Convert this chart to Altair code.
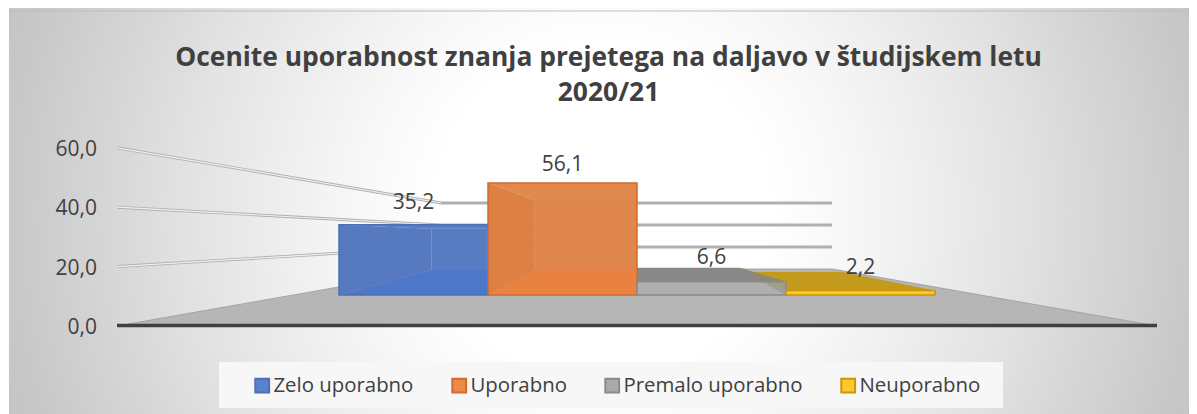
import altair as alt
import numpy as np
import pandas as pd

# ---- chart values ----
categories = ["Zelo uporabno", "Uporabno", "Premalo uporabno", "Neuporabno"]
values = [35.2, 56.1, 6.6, 2.2]
value_labels = ["35,2", "56,1", "6,6", "2,2"]
tick_values = [0, 20, 40, 60]
tick_labels = ["0,0", "20,0", "40,0", "60,0"]
title_lines = ["Ocenite uporabnost znanja prejetega na daljavo v študijskem letu", "2020/21"]

# ---- styles ----
TEXT = "#404040"
FONT = "Open Sans"
legend_fill = ["#5a82cf", "#ec8a4a", "#aaaaaa", "#ffc72a"]
legend_stroke = ["#4a70b8", "#d5692b", "#8a8a8a", "#c8980a"]
front_alpha = [0.22, 0.30, 0.55, 1.0]
left_wall = ["#5676bb", "#d67b42", None, None]
back_wall = ["#587abe", "#d9854d", None, None]
bottom = ["#4a75c8", "#e87f3e", None, None]
top_face = ["#5a7cc0", "#dd8a50", "#888888", "#c49a1c"]
label_gap = [24, 20, 26, 25]

# ---- 3D projection of the Excel chart's box onto the screen ----
W, H = 1181, 406
X = alt.Scale(domain=[8, 8 + W], range=[0, W])
Y = alt.Scale(domain=[414, 8], range=[H, 0])
x_q = lambda f="x": alt.X(f"{f}:Q", scale=X, axis=None)
y_q = lambda f="y": alt.Y(f"{f}:Q", scale=Y, axis=None)

wall_front = lambda v: 326 - 2.97 * v      # y on the axis plane
wall_back = lambda v: 269 - 1.1 * v        # y on the back wall
bar_front = lambda v: 295 - 1.996 * v      # y on the bars' front plane
bar_back = lambda v: float(np.interp(v, [0, 7, 56.1], [274, 267.5, 200]))
CX = 637
DEPTH = 0.69
BAR_W = 149
bar_x0 = 339
back_x = lambda x: CX + (x - CX) * DEPTH
BACK_BASE = 270
FLOOR = [117, 441, 832, 1157]


def area(xs, ys, y2s, fill, opacity=1.0, stroke=None):
    d = pd.DataFrame({"x": xs, "y": ys, "y2": y2s})
    kw = {"stroke": stroke, "strokeWidth": 1} if stroke else {}
    return alt.Chart(d).mark_area(orient="vertical", interpolate="linear", fill=fill,
                                  opacity=opacity, **kw).encode(
        x=x_q(), y=y_q(), y2="y2:Q")


layers = []

# background
bg = pd.DataFrame({"x": [9], "x2": [1197], "y": [-190], "y2": [614]})
layers.append(alt.Chart(bg).mark_rect(clip=True, fill={
    "gradient": "radial", "x1": 0.5, "y1": 0.5, "r1": 0, "x2": 0.5, "y2": 0.5, "r2": 0.7,
    "stops": [{"offset": 0, "color": "#ffffff"}, {"offset": 0.2, "color": "#ffffff"},
              {"offset": 0.3, "color": "#f7f7f7"}, {"offset": 0.485, "color": "#e4e4e4"},
              {"offset": 0.6, "color": "#d6d6d6"}, {"offset": 0.714, "color": "#c8c8c8"},
              {"offset": 1, "color": "#b0b0b0"}]}).encode(
    x=x_q(), x2="x2:Q", y=y_q(), y2="y2:Q"))
layers.append(alt.Chart(pd.DataFrame({"x": [9], "x2": [8 + W], "y": [11]})).mark_rule(
    color="#bdbdbd", strokeWidth=1).encode(x=x_q(), x2="x2:Q", y=y_q()))

# legend box
box = pd.DataFrame({"x": [219], "x2": [1003], "y": [362], "y2": [408]})
layers.append(alt.Chart(box).mark_rect(fill="#f7f7f7").encode(x=x_q(), x2="x2:Q", y=y_q(), y2="y2:Q"))

# floor
layers.append(area(FLOOR, [326, 269, 269, 326], [326, 326, 326, 326], "#b6b6b6", stroke="#a4a4a4"))

# gridlines
for v in tick_values[1:]:
    g = pd.DataFrame({"x": FLOOR[:3], "y": [wall_front(v), wall_back(v), wall_back(v)], "o": [0, 1, 2]})
    layers.append(alt.Chart(g).mark_line(color="#b0b0b0", strokeWidth=3, interpolate="linear").encode(
        x=x_q(), y=y_q(), order="o:Q"))
    layers.append(alt.Chart(g.iloc[:2]).mark_line(color="#f0f0f0", strokeWidth=1.2, interpolate="linear").encode(
        x=x_q(), y=y_q(), order="o:Q"))

# baseline
layers.append(alt.Chart(pd.DataFrame({"x": [FLOOR[0]], "x2": [FLOOR[3]], "y": [325.5]})).mark_rule(
    color=TEXT, strokeWidth=3.5).encode(x=x_q(), x2="x2:Q", y=y_q()))

# bars: inner faces, painted back to front (yellow before grey so it shows through)
bars = []
for i, v in enumerate(values):
    x0 = bar_x0 + i * BAR_W
    x1 = x0 + BAR_W
    bars.append((i, v, x0, x1, back_x(x0), back_x(x1)))

for i, v, x0, x1, bx0, bx1 in [bars[0], bars[1]]:
    by = bar_back(v)
    fy = bar_front(v)
    layers.append(area([bx0, x1], [by, by], [BACK_BASE, BACK_BASE], back_wall[i]))
    layers.append(area([x0, bx0, x1], [fy, fy, fy], [fy, by, by], top_face[i]))
    layers.append(area([x0, bx0], [fy, by], [295, BACK_BASE], left_wall[i]))
    layers.append(area([x0, bx0, x1], [295, BACK_BASE, BACK_BASE], [295, 295, 295], bottom[i]))

# yellow top
i, v, x0, x1, bx0, bx1 = bars[3]
by = bar_back(v)
fy = bar_front(v)
layers.append(area([bx0, x0, bx1, x1], [by, by, by, fy], [by, fy, fy, fy], top_face[3]))
# grey top and side
i, v, x0, x1, bx0, bx1 = bars[2]
by = bar_back(v)
fy = bar_front(v)
layers.append(area([x0, bx1, x1], [by, by, fy], [fy, fy, fy], top_face[2]))
layers.append(area([bx1, x1], [by, fy], [BACK_BASE, 295], "#8a8a70", opacity=0.75))

# front faces: the real bars
front = pd.DataFrame({
    "series": categories,
    "x": [b[2] for b in bars],
    "x2": [b[3] for b in bars],
    "top": [bar_front(v) for v in values],
    "base": [295] * 4,
    "alpha": front_alpha,
})
legend = alt.Legend(title=None, orient="none", legendX=244, legendY=367, direction="horizontal",
                    columns=4, symbolType="square", symbolSize=190, symbolStrokeWidth=2,
                    symbolOpacity=1, labelFont=FONT, labelFontSize=20.4, labelColor=TEXT,
                    labelOffset=1, columnPadding=34, padding=0, rowPadding=0,
                    labelLimit=300, symbolOffset=0)
layers.append(alt.Chart(front).mark_rect(strokeWidth=1.5).encode(
    x=x_q(), x2="x2:Q", y=y_q("top"), y2="base:Q",
    fill=alt.Fill("series:N", sort=categories,
                  scale=alt.Scale(domain=categories, range=legend_fill), legend=legend),
    stroke=alt.Stroke("series:N", sort=categories,
                      scale=alt.Scale(domain=categories, range=legend_stroke), legend=legend),
    fillOpacity=alt.FillOpacity("alpha:Q", scale=None, legend=None),
))

# data labels
lab = pd.DataFrame({
    "x": [b[2] + BAR_W / 2 for b in bars],
    "y": [bar_front(v) - g for v, g in zip(values, label_gap)],
    "t": value_labels,
})
layers.append(alt.Chart(lab).mark_text(font=FONT, fontSize=21, color=TEXT, align="center", baseline="middle", dy=2).encode(
    x=x_q(), y=y_q(), text="t:N"))

# value axis labels
ax = pd.DataFrame({"x": [97] * 4, "y": [wall_front(v) for v in tick_values], "t": tick_labels})
layers.append(alt.Chart(ax).mark_text(font=FONT, fontSize=21, color=TEXT, align="right", baseline="middle", dy=2).encode(
    x=x_q(), y=y_q(), text="t:N"))

chart = alt.layer(*layers).properties(
    width=W, height=H, padding=0,
    autosize=alt.AutoSizeParams(type="none"),
    title=alt.TitleParams(text=title_lines, font=FONT, fontSize=26.4, fontWeight="bold", color=TEXT,
                          anchor="middle", frame="group", offset=-98.5, dx=10, lineHeight=35),
).resolve_scale(x="shared", y="shared").configure_view(stroke=None)

chart.save("out.html", embed_options={"renderer": "svg", "actions": False})
